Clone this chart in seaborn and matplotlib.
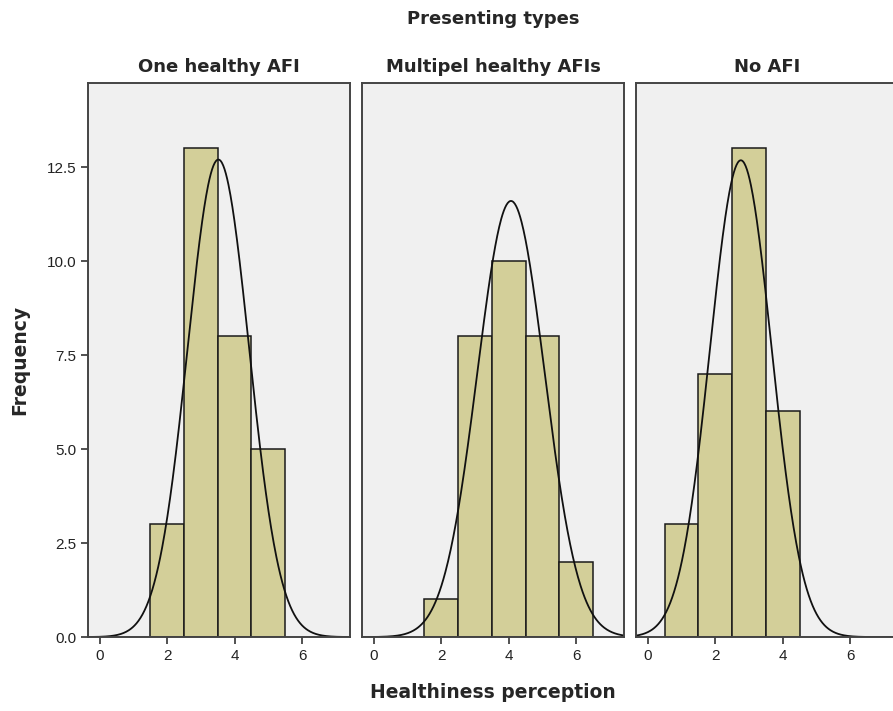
import numpy as np
import pandas as pd
import matplotlib
matplotlib.use("Agg")
import matplotlib.pyplot as plt
import seaborn as sns

# histogram counts per presenting type (bins of width 1, centred on integers)
panels = ["One healthy AFI", "Multipel healthy AFIs", "No AFI"]
bins_one = [2, 3, 4, 5]
counts_one = [3, 13, 8, 5]
bins_multi = [2, 3, 4, 5, 6]
counts_multi = [1, 8, 10, 8, 2]
bins_none = [1, 2, 3, 4]
counts_none = [3, 7, 13, 6]
x_ticks = [0, 2, 4, 6]
y_ticks = [0.0, 2.5, 5.0, 7.5, 10.0, 12.5]

df = pd.concat([
    pd.DataFrame({"type": panels[0], "value": bins_one, "count": counts_one}),
    pd.DataFrame({"type": panels[1], "value": bins_multi, "count": counts_multi}),
    pd.DataFrame({"type": panels[2], "value": bins_none, "count": counts_none}),
], ignore_index=True)

sns.set_style("ticks", {"axes.facecolor": "#f0f0f0", "axes.edgecolor": "#444444"})
plt.rcParams["font.family"] = ["Liberation Sans", "DejaVu Sans"]
bold_font = {"family": "DejaVu Sans", "weight": "bold"}

g = sns.FacetGrid(df, col="type", col_order=panels, sharey=True, sharex=True)
g.map_dataframe(sns.histplot, x="value", weights="count", discrete=True,
                color="#d3cf99", edgecolor="#1a1a1a", linewidth=1.1, alpha=1)

fig = g.figure
fig.set_size_inches(8.93, 7.11)
fig.subplots_adjust(left=0.0985, right=1.0056, bottom=0.104, top=0.883, wspace=0.046)

xs = np.linspace(-0.35, 7.42, 400)
for ax, name in zip(g.axes.flat, panels):
    sub = df[df["type"] == name]
    n = sub["count"].sum()
    m = (sub["value"] * sub["count"]).sum() / n
    sd = np.sqrt((sub["count"] * (sub["value"] - m) ** 2).sum() / (n - 1))
    dens = n * np.exp(-0.5 * ((xs - m) / sd) ** 2) / (sd * np.sqrt(2 * np.pi))
    sns.lineplot(x=xs, y=dens, ax=ax, color="#111111", linewidth=1.3)
    ax.set_xlim(-0.35, 7.42)
    ax.set_ylim(0, 14.73)
    ax.set_xticks(x_ticks)
    ax.set_yticks(y_ticks)
    ax.set_xticklabels([str(t) for t in x_ticks], fontsize=11, color="#222222")
    ax.set_yticklabels([f"{t:.1f}" for t in y_ticks], fontsize=11, color="#222222")
    ax.set_title(name, fontdict=bold_font, fontsize=13, pad=8)
    ax.set_xlabel("")
    ax.set_ylabel("")
    for s in ax.spines.values():
        s.set_visible(True)
        s.set_linewidth(1.4)
        s.set_color("#444444")
    ax.tick_params(length=5, width=1.2, color="#333333")

for ax in g.axes.flat[1:]:
    ax.tick_params(axis="y", left=False, labelleft=False)

fig.text(0.552, 1 - 19 / 711, "Presenting types", ha="center", va="center",
         fontdict=bold_font, fontsize=13)
fig.text(0.552, 1 - 692 / 711, "Healthiness perception", ha="center", va="center",
         fontdict=bold_font, fontsize=13.5)
fig.text(20 / 893, 1 - 360 / 711, "Frequency", ha="center", va="center",
         rotation=90, fontdict=bold_font, fontsize=13.5)

fig.savefig("out.png", dpi=100, facecolor="white")
